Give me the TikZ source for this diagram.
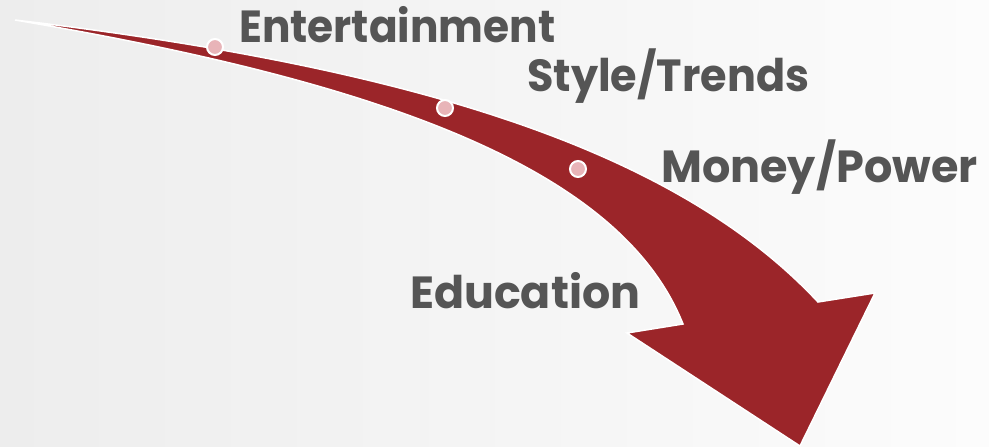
\documentclass[tikz,border=0pt]{standalone}
\usepackage{fontspec}
\setmainfont{Poppins}
\definecolor{arrowred}{RGB}{155,37,41}
\definecolor{dotpink}{RGB}{232,180,184}
\definecolor{txtgray}{RGB}{85,85,85}
\definecolor{bgL}{RGB}{237,237,237}
\definecolor{bgR}{RGB}{252,252,252}
\tikzset{
  dotmark/.style={circle, fill=dotpink, draw=white, line width=2pt, minimum size=16pt, inner sep=0pt},
  label/.style={anchor=base west, inner sep=0pt, text=txtgray, font=\fontsize{45}{50}\selectfont\bfseries}
}
\begin{document}
\begin{tikzpicture}[x=1pt,y=-1pt]
\useasboundingbox (0,0) rectangle (989,447);
\shade[left color=bgL, right color=bgR] (0,0) rectangle (989,447);
\fill[arrowred, draw=white, line width=1.5pt, line join=miter]
  (15,20) .. controls (420,68) and (678,152) .. (818,302)
  -- (875,293) -- (800,446) -- (627,333) -- (683,324)
  .. controls (623,174) and (400,85) .. (15,20) -- cycle;
\node[dotmark] (d1) at (215,47) {};
\node[dotmark] (d2) at (445,108) {};
\node[dotmark] (d3) at (578,169) {};
\node[label] (t1) at (239,42.5) {\scalebox{0.94}[1]{Entertainment}};
\node[label] (t2) at (527,91) {\scalebox{0.955}[1]{Style/Trends}};
\node[label] (t3) at (661,182.5) {\scalebox{0.99}[1]{Money/Power}};
\node[label] (t4) at (410,308.3) {\scalebox{0.985}[1]{Education}};
\end{tikzpicture}
\end{document}
